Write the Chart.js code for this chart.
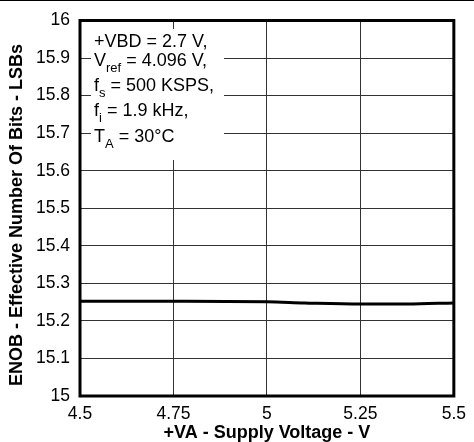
<!DOCTYPE html>
<html>
<head>
<meta charset="utf-8">
<script src="https://cdn.jsdelivr.net/npm/chart.js@4.4.0/dist/chart.umd.min.js"></script>
<style>
  html, body { margin: 0; padding: 0; background: #fff; }
  #wrap { position: absolute; left: 0; top: 0; width: 474px; height: 442px; }
</style>
</head>
<body>
<div id="wrap"><canvas id="enobChart"></canvas></div>
<script>
// supply voltage (V) and ENOB readings
let supplyVoltage = [4.5, 4.75, 5.0, 5.1, 5.25, 5.375, 5.5];
let enobValues = [15.252, 15.252, 15.251, 15.248, 15.245, 15.245, 15.248];

let xTicks = [4.5, 4.75, 5, 5.25, 5.5];
let yTicks = [15, 15.1, 15.2, 15.3, 15.4, 15.5, 15.6, 15.7, 15.8, 15.9, 16];

let yTitle = "ENOB - Effective Number Of Bits - LSBs";

// conditions text, [main, subscript, rest]
let noteLines = [
  ["+VBD = 2.7 V,", "", ""],
  ["V", "ref", " = 4.096 V,"],
  ["f", "s", " = 500 KSPS,"],
  ["f", "i", " = 1.9 kHz,"],
  ["T", "A", " = 30°C"],
];
let noteBaselines = [47, 66, 91, 116, 142];

const FONT = "'Liberation Sans', Arial, sans-serif";

// white box + notes, y title, frame, top rule
const notesPlugin = {
  id: "notes",
  afterDatasetsDraw(chart) {
    const ctx = chart.ctx;
    const area = chart.chartArea;
    ctx.save();
    ctx.fillStyle = "#fff";
    ctx.fillRect(91, 29, 133, 131);

    ctx.fillStyle = "#000";
    ctx.textBaseline = "alphabetic";
    ctx.textAlign = "left";
    noteLines.forEach((line, i) => {
      let x = 94;
      let y = noteBaselines[i];
      ctx.font = "18px " + FONT;
      ctx.fillText(line[0], x, y);
      x += ctx.measureText(line[0]).width;
      if (line[1]) {
        ctx.font = "13px " + FONT;
        ctx.fillText(line[1], x, y + 6);
        x += ctx.measureText(line[1]).width;
      }
      ctx.font = "18px " + FONT;
      ctx.fillText(line[2], x, y);
    });

    // rotated y axis title
    ctx.save();
    ctx.translate(17, 215);
    ctx.rotate(-Math.PI / 2);
    ctx.textAlign = "center";
    ctx.textBaseline = "middle";
    ctx.font = "bold 18px " + FONT;
    ctx.fillText(yTitle, 0, 0);
    ctx.restore();

    // plot frame
    ctx.strokeStyle = "#000";
    ctx.lineWidth = 3;
    ctx.strokeRect(area.left, area.top, area.right - area.left, area.bottom - area.top);

    // thin rule on top edge of the picture
    ctx.lineWidth = 1;
    ctx.beginPath();
    ctx.moveTo(0, 0.5);
    ctx.lineTo(chart.width, 0.5);
    ctx.stroke();
    ctx.restore();
  },
};

let chartData = {
  datasets: [
    {
      data: supplyVoltage.map((v, i) => ({ x: v, y: enobValues[i] })),
      borderColor: "#000",
      borderWidth: 3,
      pointRadius: 0,
      cubicInterpolationMode: "monotone",
      fill: false,
    },
  ],
};

let chartOptions = {
  responsive: false,
  animation: false,
  devicePixelRatio: 1,
  layout: { padding: { left: 0, right: 14, top: 16, bottom: 0 } },
  plugins: { legend: { display: false }, tooltip: { enabled: false } },
  scales: {
    x: {
      type: "linear",
      min: 4.5,
      max: 5.5,
      afterFit: (scale) => { scale.height = 46; },
      afterBuildTicks: (scale) => { scale.ticks = xTicks.map((v) => ({ value: v })); },
      grid: { color: "#333", lineWidth: 1, drawTicks: false },
      border: { display: false },
      ticks: {
        padding: 8,
        color: "#000",
        font: { family: FONT, size: 17.5 },
        maxRotation: 0,
        callback: (v) => String(v),
      },
      title: {
        display: true,
        text: "+VA - Supply Voltage - V",
        color: "#000",
        font: { family: FONT, size: 18, weight: "bold", lineHeight: 1 },
        padding: { top: 0, bottom: 0 },
      },
    },
    y: {
      min: 15,
      max: 16,
      afterFit: (scale) => { scale.width = 80; },
      afterBuildTicks: (scale) => { scale.ticks = yTicks.map((v) => ({ value: v })); },
      grid: { color: "#333", lineWidth: 1, drawTicks: false },
      border: { display: false },
      ticks: {
        padding: 10,
        color: "#000",
        font: { family: FONT, size: 17.5 },
        callback: (v) => String(Math.round(v * 10) / 10),
      },
      title: { display: false },
    },
  },
};

let canvas = document.getElementById("enobChart");
canvas.width = 474;
canvas.height = 442;
canvas.style.width = "474px";
canvas.style.height = "442px";

let enobChart = new Chart(canvas.getContext("2d"), {
  type: "line",
  data: chartData,
  options: chartOptions,
  plugins: [notesPlugin],
});
</script>
</body>
</html>
